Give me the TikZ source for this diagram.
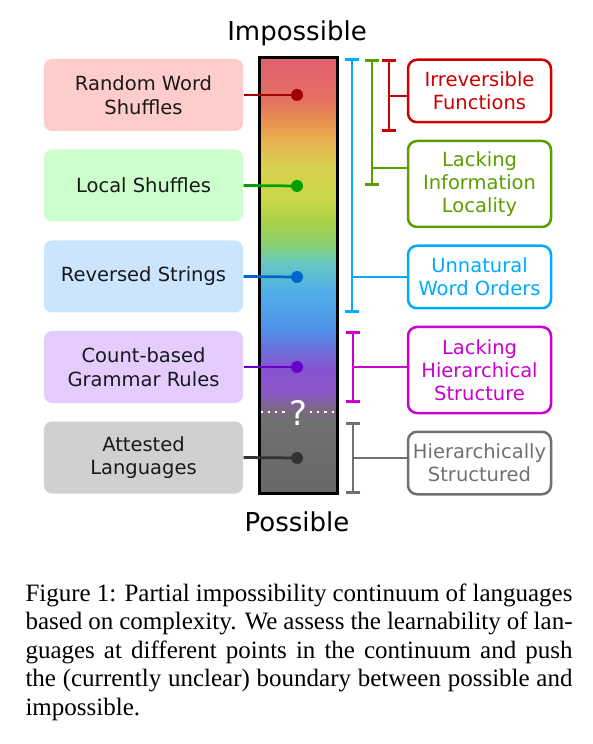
\documentclass[tikz,border=0pt]{standalone}
\usepackage{fontspec}
\setmainfont{Liberation Serif}
\newfontfamily\diagfont{DejaVu Sans}
\usepackage{xcolor}
\usepackage{tikz}
\usetikzlibrary{arrows.meta, positioning, calc}
\definecolor{imp_red}{RGB}{204, 0, 0}
\definecolor{imp_green}{RGB}{90, 158, 0}
\definecolor{imp_blue}{RGB}{0, 170, 255}
\definecolor{imp_magenta}{RGB}{204, 0, 204}
\definecolor{imp_gray}{RGB}{112, 112, 112}
\definecolor{dot_red}{RGB}{160, 0, 0}
\definecolor{dot_green}{RGB}{0, 160, 0}
\definecolor{dot_blue}{RGB}{0, 102, 204}
\definecolor{dot_purple}{RGB}{102, 0, 204}
\definecolor{dot_gray}{RGB}{51, 51, 51}
\definecolor{fill_red}{RGB}{255, 204, 204}
\definecolor{fill_green}{RGB}{204, 255, 204}
\definecolor{fill_blue}{RGB}{204, 229, 255}
\definecolor{fill_purple}{RGB}{229, 204, 255}
\definecolor{fill_gray}{RGB}{208, 208, 208}
% colour bar stops
\definecolor{g0}{HTML}{E06070}
\definecolor{g1}{HTML}{E47060}
\definecolor{g2}{HTML}{E89050}
\definecolor{g3}{HTML}{E8B050}
\definecolor{g4}{HTML}{D8D050}
\definecolor{g5}{HTML}{C8D848}
\definecolor{g6}{HTML}{A8D048}
\definecolor{g7}{HTML}{88D070}
\definecolor{g8}{HTML}{68C8C0}
\definecolor{g9}{HTML}{50B0E8}
\definecolor{g10}{HTML}{5090E8}
\definecolor{g11}{HTML}{8A50D0}
\definecolor{g12}{HTML}{8A58C8}
\definecolor{g13}{HTML}{7C6880}
\definecolor{g14}{HTML}{707070}
\definecolor{g15}{HTML}{686868}

\tikzset{
  leftbox/.style={rounded corners=3.2pt, minimum width=79.6pt, minimum height=28.8pt,
    inner sep=0pt, align=center, text=black!90,
    font=\diagfont\fontsize{7.8pt}{9.4pt}\selectfont},
  rightbox/.style={draw, line width=1pt, rounded corners=3.6pt, minimum width=57.2pt,
    minimum height=25pt, inner sep=0pt, align=center,
    font=\diagfont\fontsize{7.8pt}{9.2pt}\selectfont},
  ldot/.style={circle, inner sep=0pt, minimum size=4.8pt},
  link/.style={line width=1.1pt},
  bracket/.style={line width=1.1pt, {Bar[width=5.6pt]}-{Bar[width=5.6pt]}},
  endlabel/.style={font=\diagfont\fontsize{10.4pt}{12pt}\selectfont},
}

\begin{document}
\begin{tikzpicture}[x=0.4pt, y=-0.4pt]
  \useasboundingbox (0,0) rectangle (592,744);

  % colour bar
  \foreach \ya/\yb/\ca/\cb in {58/100/g0/g1, 100/120/g1/g2, 120/140/g2/g3, 140/165/g3/g4,
      165/200/g4/g5, 200/222/g5/g6, 222/245/g6/g7, 245/262/g7/g8, 262/290/g8/g9,
      290/330/g9/g10, 330/370/g10/g11, 370/392/g11/g12, 392/410/g12/g13,
      410/420/g13/g14, 420/493/g14/g15}
    \shade[top color=\ca, bottom color=\cb] (259,\ya-0.5) rectangle (337,\yb+0.5);
  \node[draw, line width=1.2pt, minimum width=31.2pt, minimum height=174pt, inner sep=0pt] (bar) at (298,275.5) {};

  \node[endlabel] (impossible) at (297,33) {Impossible};
  \node[endlabel] (possible) at (297,522) {Possible};

  % unclear boundary
  \node[text=white, inner sep=1pt, font=\diagfont\fontsize{13.5pt}{13.5pt}\selectfont] (q) at (298,413) {?};
  \draw[white, dotted, line width=0.9pt] ([xshift=1.2pt]bar.west |- 0,412) -- (q.west |- 0,412);
  \draw[white, dotted, line width=0.9pt] (q.east |- 0,412) -- ([xshift=-1.2pt]bar.east |- 0,412);

  % languages
  \node[leftbox, fill=fill_red]    (rws) at (143.5,95)    {Random Word\\Shuffles};
  \node[leftbox, fill=fill_green]  (lsh) at (143.5,185.5) {Local Shuffles};
  \node[leftbox, fill=fill_blue]   (rev) at (143.5,276.5) {Reversed Strings};
  \node[leftbox, fill=fill_purple] (cnt) at (143.5,367)   {Count-based\\Grammar Rules};
  \node[leftbox, fill=fill_gray]   (att) at (143.5,457.5) {Attested\\Languages};

  \coordinate (d1) at (297,95);
  \coordinate (d2) at (297,186);
  \coordinate (d3) at (297,277);
  \coordinate (d4) at (297,367);
  \coordinate (d5) at (297,458);

  \draw[link, dot_red]    (rws.east) -- (d1);
  \draw[link, dot_green]  (lsh.east) -- (d2);
  \draw[link, dot_blue]   (rev.east) -- (d3);
  \draw[link, dot_purple] (cnt.east) -- (d4);
  \draw[link, dot_gray]   (att.east) -- (d5);

  \node[ldot, fill=dot_red]    (dot1) at (d1) {};
  \node[ldot, fill=dot_green]  (dot2) at (d2) {};
  \node[ldot, fill=dot_blue]   (dot3) at (d3) {};
  \node[ldot, fill=dot_purple] (dot4) at (d4) {};
  \node[ldot, fill=dot_gray]   (dot5) at (d5) {};

  % properties
  \node[rightbox, draw=imp_red, text=imp_red]             (irr)  at (479.5,91)  {Irreversible\\Functions};
  \node[rightbox, draw=imp_green, text=imp_green, minimum height=34.4pt] (loc) at (479.5,184) {Lacking\\Information\\Locality};
  \node[rightbox, draw=imp_blue, text=imp_blue]           (uwo)  at (479.5,277) {Unnatural\\Word Orders};
  \node[rightbox, draw=imp_magenta, text=imp_magenta, minimum height=34.4pt] (hier) at (479.5,370) {Lacking\\Hierarchical\\Structure};
  \node[rightbox, draw=imp_gray, text=imp_gray]           (hstr) at (479.5,463) {Hierarchically\\Structured};

  % brackets
  \coordinate (blue_top) at (352,58);  \coordinate (blue_bot) at (352,313);
  \coordinate (green_top) at (372,59); \coordinate (green_bot) at (372,186);
  \coordinate (red_top) at (389,59);   \coordinate (red_bot) at (389,132);
  \coordinate (mag_top) at (353,331);  \coordinate (mag_bot) at (353,403);
  \coordinate (gray_top) at (353,422); \coordinate (gray_bot) at (353,494);
  \draw[bracket, imp_blue]    (blue_top) -- (blue_bot);
  \draw[bracket, imp_green]   (green_top) -- (green_bot);
  \draw[bracket, imp_red]     (red_top) -- (red_bot);
  \draw[bracket, imp_magenta] (mag_top) -- (mag_bot);
  \draw[bracket, imp_gray]    (gray_top) -- (gray_bot);

  \coordinate (red_br) at (389,96);
  \coordinate (green_br) at (372,168);
  \coordinate (blue_br) at (352,277);
  \coordinate (mag_br) at (353,367);
  \coordinate (gray_br) at (353,458);
  \draw[link, imp_red]     (red_br) -- (red_br -| irr.west);
  \draw[link, imp_green]   (green_br) -- (green_br -| loc.west);
  \draw[link, imp_blue]    (blue_br) -- (blue_br -| uwo.west);
  \draw[link, imp_magenta] (mag_br) -- (mag_br -| hier.west);
  \draw[link, imp_gray]    (gray_br) -- (gray_br -| hstr.west);

  % caption
  \node[anchor=north west, inner sep=0pt, text width=218.8pt, align=justify,
        font=\fontsize{10pt}{11.4pt}\selectfont] (caption) at (25,583)
    {Figure 1: Partial impossibility continuum of languages\linebreak
     based on complexity. We assess the learnability of lan-\linebreak
     guages at different points in the continuum and push\linebreak
     the (currently unclear) boundary between possible and\linebreak
     impossible.};
\end{tikzpicture}
\end{document}
